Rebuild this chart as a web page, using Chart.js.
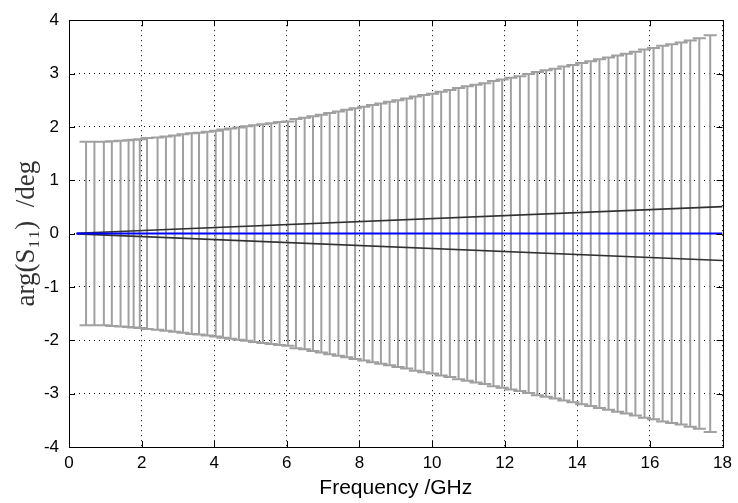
<!DOCTYPE html>
<html>
<head>
<meta charset="utf-8">
<script src="https://cdn.jsdelivr.net/npm/chart.js@4.4.1/dist/chart.umd.min.js"></script>
<style>
  html, body { margin: 0; padding: 0; background: #ffffff; }
  #c { display: block; }
</style>
</head>
<body>
<canvas id="c" width="738" height="503"></canvas>
<script>
// ---- data ----
const frequencies = [0.47, 0.70, 0.96, 1.18, 1.42, 1.64, 1.78, 1.95, 2.15, 2.44, 2.67, 2.91, 3.14, 3.38, 3.58, 3.81,
  4.04, 4.24, 4.45, 4.68, 4.89, 5.11, 5.34, 5.57, 5.80, 6.03, 6.25, 6.49, 6.72, 6.95, 7.18, 7.42, 7.65, 7.88,
  8.12, 8.36, 8.59, 8.83, 9.06, 9.30, 9.54, 9.77, 10.01, 10.25, 10.49, 10.73, 10.97, 11.21, 11.45, 11.69, 11.93,
  12.17, 12.42, 12.66, 12.90, 13.14, 13.39, 13.63, 13.88, 14.12, 14.37, 14.61, 14.86, 15.11, 15.35, 15.60, 15.85,
  16.10, 16.35, 16.60, 16.86, 17.11, 17.36, 17.66];
const uncertainty = [1.72, 1.72, 1.72, 1.73, 1.74, 1.75, 1.76, 1.77, 1.79, 1.80, 1.82, 1.84, 1.86, 1.88, 1.89, 1.91,
  1.93, 1.95, 1.97, 1.99, 2.01, 2.03, 2.05, 2.07, 2.09, 2.10, 2.15, 2.17, 2.20, 2.23, 2.26, 2.29, 2.32, 2.35,
  2.38, 2.41, 2.44, 2.47, 2.50, 2.53, 2.57, 2.60, 2.62, 2.66, 2.69, 2.73, 2.76, 2.79, 2.82, 2.86, 2.89,
  2.92, 2.95, 2.99, 3.03, 3.06, 3.09, 3.13, 3.16, 3.20, 3.23, 3.27, 3.30, 3.34, 3.37, 3.41, 3.45,
  3.48, 3.52, 3.55, 3.58, 3.62, 3.66, 3.72];
const meanFreq = [0.21, 18];
const meanValue = [0, 0];
const boundFreq = [0.21, 18];
const upperBound = [0.006, 0.505];
const lowerBound = [-0.006, -0.505];
const xTicks = [0, 2, 4, 6, 8, 10, 12, 14, 16, 18];
const yTicks = [-4, -3, -2, -1, 0, 1, 2, 3, 4];

// ---- build datasets ----
const capHalf = 0.18; // cap half width in GHz
const barPts = [], capPts = [];
frequencies.forEach((f, i) => {
  const u = uncertainty[i];
  barPts.push({x: f, y: -u}, {x: f, y: u}, {x: f, y: null});
  capPts.push({x: f - capHalf, y: u}, {x: f + capHalf, y: u}, {x: f, y: null});
  capPts.push({x: f - capHalf, y: -u}, {x: f + capHalf, y: -u}, {x: f, y: null});
});
const toPts = (xs, ys) => xs.map((x, i) => ({x: x, y: ys[i]}));

const frameTicks = {
  id: 'frameTicks',
  afterDatasetsDraw(chart) {
    const {ctx, chartArea: a, scales} = chart;
    ctx.save();
    ctx.strokeStyle = '#000';
    ctx.lineWidth = 1;
    const L = 6;
    ctx.beginPath();
    xTicks.forEach(v => {
      const px = Math.round(scales.x.getPixelForValue(v)) + 0.5;
      ctx.moveTo(px, a.bottom); ctx.lineTo(px, a.bottom - L);
      ctx.moveTo(px, a.top); ctx.lineTo(px, a.top + L);
    });
    yTicks.forEach(v => {
      const py = Math.round(scales.y.getPixelForValue(v)) + 0.5;
      ctx.moveTo(a.left, py); ctx.lineTo(a.left + L, py);
      ctx.moveTo(a.right, py); ctx.lineTo(a.right - L, py);
    });
    ctx.stroke();
    ctx.strokeRect(Math.round(a.left) + 0.5, Math.round(a.top) + 0.5,
      Math.round(a.right - a.left), Math.round(a.bottom - a.top));
    ctx.restore();
  }
};

new Chart(document.getElementById('c'), {
  type: 'line',
  data: {
    datasets: [
      {data: barPts, borderColor: '#a0a0a0', borderWidth: 2, pointRadius: 0, spanGaps: false, order: 4},
      {data: capPts, borderColor: '#a0a0a0', borderWidth: 2, pointRadius: 0, spanGaps: false, order: 3},
      {data: toPts(boundFreq, upperBound), borderColor: '#303030', borderWidth: 1.6, pointRadius: 0, order: 2},
      {data: toPts(boundFreq, lowerBound), borderColor: '#303030', borderWidth: 1.6, pointRadius: 0, order: 2},
      {data: toPts(meanFreq, meanValue), borderColor: '#0000ff', borderWidth: 2, pointRadius: 0, order: 1}
    ]
  },
  options: {
    responsive: false,
    animation: false,
    devicePixelRatio: 1,
    layout: {padding: {left: 0, right: 14, top: 18, bottom: 0}},
    plugins: {legend: {display: false}, tooltip: {enabled: false}},
    elements: {line: {tension: 0}},
    scales: {
      x: {
        type: 'linear', min: 0, max: 18,
        afterBuildTicks: s => { s.ticks = xTicks.map(v => ({value: v})); },
        afterFit: s => { s.height = 56; },
        grid: {color: '#000', lineWidth: 1, drawTicks: false},
        border: {display: false, dash: [1, 4]},
        ticks: {color: '#000', padding: 6, font: {family: 'Liberation Sans', size: 17}},
        title: {display: true, text: 'Frequency /GHz', color: '#000',
          font: {family: 'Liberation Sans', size: 21}, padding: {top: 0, bottom: 2}}
      },
      y: {
        type: 'linear', min: -4, max: 4,
        afterBuildTicks: s => { s.ticks = yTicks.map(v => ({value: v})); },
        afterFit: s => { s.width = 69; },
        grid: {color: '#000', lineWidth: 1, drawTicks: false},
        border: {display: false, dash: [1, 4]},
        ticks: {color: '#000', padding: 10, font: {family: 'Liberation Sans', size: 17}},
        title: {display: true, text: 'arg(S\u2081\u2081)  /deg', color: '#333',
          font: {family: 'Liberation Serif', size: 27}, padding: {top: 11, bottom: 0}}
      }
    }
  },
  plugins: [frameTicks]
});
</script>
</body>
</html>
